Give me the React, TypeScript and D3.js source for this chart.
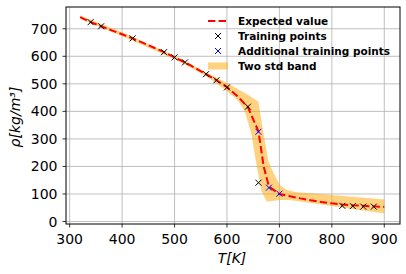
import React from 'react';
import * as d3 from 'd3';

// expected value (mean of the prediction)
const meanT = [320, 340, 360, 380, 400, 420, 440, 460, 480, 500, 520, 540, 560, 580, 600, 620, 640, 660, 670, 680, 700, 720, 740, 760, 780, 800, 820, 840, 860, 880, 900];
const meanRho = [742, 724, 709, 694, 680, 665, 649, 632, 615, 596, 578, 557, 535, 513, 488, 455, 415, 328, 200, 127, 100, 92, 84, 77, 71, 66, 62, 59, 57, 55, 53];

// two std band edges
const upperT = [320, 400, 500, 560, 600, 640, 660, 668, 679, 689, 701, 714, 730, 800, 900];
const upperRho = [748, 687, 602, 542, 503, 460, 435, 339, 218, 175, 132, 115, 107, 96, 80];
const lowerT = [320, 400, 500, 560, 600, 620, 634, 647, 653, 660, 666, 676, 700, 720, 800, 900];
const lowerRho = [736, 673, 590, 528, 473, 442, 400, 315, 242, 169, 108, 72, 78, 78, 56, 29];

const trainT = [340, 360, 420, 480, 500, 520, 560, 580, 600, 640, 660, 820, 840, 860, 880];
const trainRho = [724, 709, 665, 615, 596, 578, 535, 513, 487, 417, 141, 57, 56, 54, 54];

const addT = [660, 680, 700];
const addRho = [326, 123, 101];

const xTicks = [300, 400, 500, 600, 700, 800, 900];
const yTicks = [0, 100, 200, 300, 400, 500, 600, 700];

const legendLabels = ['Expected value', 'Training points', 'Additional training points', 'Two std band'];

const W = 406;
const H = 274;
const plot = { left: 66, right: 400, top: 7, bottom: 224 };

const x = d3.scaleLinear().domain([293, 930]).range([plot.left, plot.right]);
const y = d3.scaleLinear().domain([-9, 779]).range([plot.bottom, plot.top]);

const Cross = ({ cx, cy, color }) => (
  <path d={`M${cx - 3},${cy - 3}L${cx + 3},${cy + 3}M${cx - 3},${cy + 3}L${cx + 3},${cy - 3}`}
    stroke={color} strokeWidth={1} fill="none" />
);

const App = () => {
  const line = d3.line<number>().x((d, i) => x(meanT[i])).y(d => y(d));
  const upperPts = upperT.map((t, i) => [x(t), y(upperRho[i])]);
  const lowerPts = lowerT.map((t, i) => [x(t), y(lowerRho[i])]).reverse();
  const band = d3.line()([...upperPts, ...lowerPts] as [number, number][]) + 'Z';

  const font = 'DejaVu Sans, sans-serif';
  const legX = 208;
  const legY = [21, 36, 51, 66];

  return (
    <svg width={W} height={H} style={{ position: 'absolute', left: 0, top: 0, background: '#fff' }}
      fontFamily={font}>
      <defs>
        <clipPath id="plotclip">
          <rect x={plot.left} y={plot.top} width={plot.right - plot.left} height={plot.bottom - plot.top} />
        </clipPath>
      </defs>

      {/* grid */}
      {xTicks.map(t => (
        <line key={'gx' + t} x1={x(t)} x2={x(t)} y1={plot.top} y2={plot.bottom} stroke="#b0b0b0" strokeWidth={0.8} />
      ))}
      {yTicks.map(t => (
        <line key={'gy' + t} x1={plot.left} x2={plot.right} y1={y(t)} y2={y(t)} stroke="#b0b0b0" strokeWidth={0.8} />
      ))}

      <g clipPath="url(#plotclip)">
        <path d={band} fill="orange" fillOpacity={0.5} stroke="none" />
        <path d={line(meanRho) || ''} fill="none" stroke="red" strokeWidth={2} strokeDasharray="7.4,3.2" />
        {trainT.map((t, i) => <Cross key={'tr' + i} cx={x(t)} cy={y(trainRho[i])} color="black" />)}
        {addT.map((t, i) => <Cross key={'ad' + i} cx={x(t)} cy={y(addRho[i])} color="blue" />)}
      </g>

      {/* spines */}
      <rect x={plot.left} y={plot.top} width={plot.right - plot.left} height={plot.bottom - plot.top}
        fill="none" stroke="black" strokeWidth={1} />

      {/* x axis */}
      {xTicks.map(t => (
        <g key={'xt' + t}>
          <line x1={x(t)} x2={x(t)} y1={plot.bottom} y2={plot.bottom + 3.5} stroke="black" strokeWidth={0.8} />
          <text x={x(t)} y={plot.bottom + 20} textAnchor="middle" fontSize={14}>{t}</text>
        </g>
      ))}
      {/* y axis */}
      {yTicks.map(t => (
        <g key={'yt' + t}>
          <line x1={plot.left - 3.5} x2={plot.left} y1={y(t)} y2={y(t)} stroke="black" strokeWidth={0.8} />
          <text x={plot.left - 8.5} y={y(t)} dy="0.36em" textAnchor="end" fontSize={14}>{t}</text>
        </g>
      ))}

      <text x={232} y={263} textAnchor="middle" fontSize={14} fontStyle="italic">T[K]</text>
      <text transform={`translate(20,117) rotate(-90)`} textAnchor="middle" fontSize={14} fontStyle="italic">
        ρ[kg/m³]
      </text>

      {/* legend */}
      <g fontSize={10.5} fontWeight="bold">
        <line x1={legX} x2={legX + 19} y1={legY[0]} y2={legY[0]} stroke="red" strokeWidth={2} strokeDasharray="7.4,3.2" />
        <Cross cx={legX + 10} cy={legY[1]} color="black" />
        <Cross cx={legX + 10} cy={legY[2]} color="blue" />
        <rect x={legX} y={legY[3] - 3.5} width={20} height={7} fill="orange" fillOpacity={0.5} />
        {legendLabels.map((l, i) => (
          <text key={l} x={legX + 30} y={legY[i]} dy="0.36em">{l}</text>
        ))}
      </g>
    </svg>
  );
};

export default App;
